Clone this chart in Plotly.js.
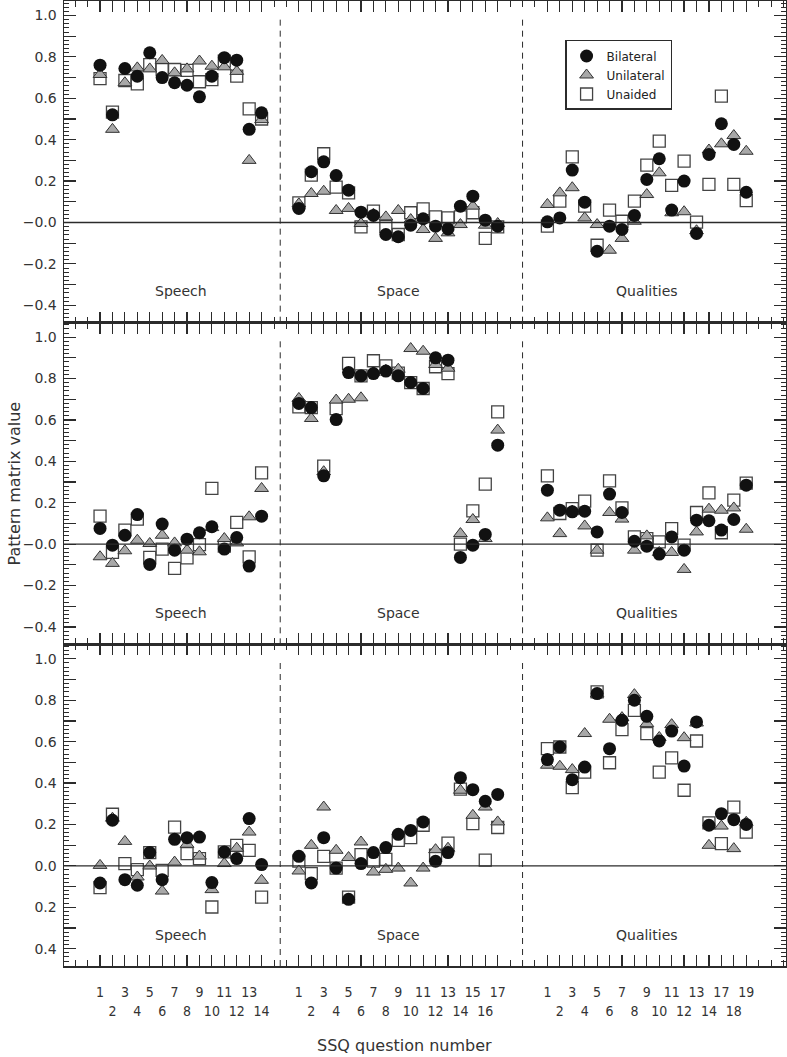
<!DOCTYPE html>
<html>
<head>
<meta charset="utf-8">
<script src="https://cdn.plot.ly/plotly-3.0.1.min.js"></script>
<style>
  body { margin: 0; background: #fff; }
  #chart { width: 787px; height: 1057px; }
</style>
</head>
<body>
<div id="chart"></div>
<script>
// SSQ question numbers in each section
const speechQ = [1, 2, 3, 4, 5, 6, 7, 8, 9, 10, 11, 12, 13, 14];
const spaceQ = [1, 2, 3, 4, 5, 6, 7, 8, 9, 10, 11, 12, 13, 14, 15, 16, 17];
const qualQ = [1, 2, 3, 4, 5, 6, 7, 8, 9, 10, 11, 12, 13, 14, 17, 18, 19];
const sectionNames = ['Speech', 'Space', 'Qualities'];

// Panel 1 (top) - speech, space, qualities in that order
const bilat1 = [0.76, 0.52, 0.744, 0.707, 0.82, 0.70, 0.675, 0.663, 0.607, 0.707, 0.796, 0.784, 0.45, 0.53,
  0.068, 0.245, 0.293, 0.227, 0.156, 0.05, 0.034, -0.058, -0.069, -0.013, 0.018, -0.018, -0.031, 0.079, 0.127, 0.011, -0.018,
  0.003, 0.022, 0.253, 0.098, -0.139, -0.018, -0.034, 0.034, 0.208, 0.308, 0.06, 0.2, -0.053, 0.329, 0.477, 0.377, 0.146];
const unilat1 = [0.715, 0.45, 0.675, 0.747, 0.742, 0.783, 0.723, 0.742, 0.78, 0.755, 0.752, 0.73, 0.30, 0.497,
  0.09, 0.14, 0.151, 0.058, 0.068, -0.005, 0.04, 0.027, 0.058, 0.014, -0.034, -0.077, -0.05, -0.01, 0.079, -0.013, -0.005,
  0.087, 0.143, 0.168, 0.022, -0.01, -0.134, -0.077, 0.006, 0.135, 0.24, 0.047, 0.052, -0.04, 0.35, 0.38, 0.42, 0.344];
const unaid1 = [0.695, 0.533, 0.686, 0.67, 0.763, 0.739, 0.739, 0.735, 0.68, 0.69, 0.78, 0.707, 0.549, 0.50,
  0.095, 0.229, 0.332, 0.171, 0.143, -0.021, 0.055, -0.02, -0.058, 0.047, 0.066, 0.027, 0.022, 0.027, 0.047, -0.077, -0.021,
  -0.018, 0.103, 0.317, 0.079, -0.11, 0.06, 0.006, 0.103, 0.277, 0.393, 0.179, 0.296, 0.002, 0.184, 0.61, 0.184, 0.106];

// Panel 2 (middle)
const bilat2 = [0.076, -0.005, 0.043, 0.143, -0.098, 0.097, -0.029, 0.024, 0.055, 0.084, -0.024, 0.032, -0.106, 0.135,
  0.68, 0.66, 0.33, 0.602, 0.829, 0.813, 0.824, 0.836, 0.813, 0.781, 0.752, 0.9, 0.889, -0.064, -0.005, 0.047, 0.478,
  0.261, 0.164, 0.156, 0.159, 0.059, 0.242, 0.153, 0.014, -0.01, -0.048, 0.035, -0.029, 0.116, 0.113, 0.068, 0.119, 0.285];
const unilat2 = [-0.061, -0.093, -0.032, 0.019, 0.003, 0.043, 0.006, -0.029, -0.037, 0.08, 0.027, 0.006, 0.132, 0.269,
  0.704, 0.607, 0.35, 0.696, 0.70, 0.707, 0.83, 0.84, 0.845, 0.945, 0.932, 0.868, 0.85, 0.051, 0.119, 0.027, 0.551,
  0.127, 0.051, 0.16, 0.088, -0.029, 0.153, 0.121, -0.029, 0.04, -0.04, -0.04, -0.122, 0.059, 0.169, 0.164, 0.175, 0.072];
const unaid2 = [0.135, -0.04, 0.068, 0.121, -0.064, -0.024, -0.117, -0.066, -0.002, 0.269, -0.01, 0.105, -0.061, 0.344,
  0.663, 0.66, 0.377, 0.655, 0.873, 0.813, 0.886, 0.861, 0.826, 0.78, 0.752, 0.857, 0.824, 0.0, 0.161, 0.29, 0.639,
  0.33, 0.148, 0.172, 0.208, -0.029, 0.306, 0.175, 0.035, 0.027, 0.011, 0.075, -0.005, 0.153, 0.248, 0.055, 0.213, 0.295];

// Panel 3 (bottom)
const bilat3 = [-0.083, 0.22, -0.067, -0.094, 0.064, -0.067, 0.128, 0.136, 0.139, -0.081, 0.067, 0.035, 0.228, 0.006,
  0.046, -0.083, 0.136, -0.011, -0.162, 0.011, 0.064, 0.088, 0.152, 0.171, 0.212, 0.022, 0.064, 0.426, 0.368, 0.312, 0.345,
  0.513, 0.574, 0.416, 0.477, 0.832, 0.566, 0.703, 0.8, 0.722, 0.603, 0.651, 0.482, 0.695, 0.196, 0.252, 0.223, 0.2];
const unilat3 = [0.002, 0.23, 0.118, -0.054, -0.001, -0.122, 0.018, 0.104, 0.047, -0.115, 0.011, 0.085, 0.163, -0.07,
  -0.025, 0.099, 0.284, 0.075, 0.04, 0.115, -0.03, -0.017, -0.011, -0.083, -0.011, 0.078, 0.085, 0.365, 0.244, 0.284, 0.212,
  0.486, 0.481, 0.465, 0.639, 0.83, 0.708, 0.716, 0.827, 0.687, 0.62, 0.682, 0.619, 0.69, 0.099, 0.192, 0.083, 0.21];
const unaid3 = [-0.105, 0.249, 0.011, -0.018, 0.064, -0.022, 0.187, 0.059, 0.035, -0.199, 0.067, 0.099, 0.075, -0.151,
  0.023, -0.038, 0.046, -0.011, -0.151, 0.054, 0.023, 0.031, 0.123, 0.136, 0.196, 0.051, 0.11, 0.37, 0.204, 0.027, 0.185,
  0.566, 0.574, 0.378, 0.453, 0.84, 0.498, 0.658, 0.751, 0.639, 0.453, 0.521, 0.365, 0.603, 0.207, 0.107, 0.284, 0.163];

// x positions: sections laid side by side with a gap of 2 slots between them
const sections = [speechQ, spaceQ, qualQ];
const offsets = [0, 16, 36];
const xs = [];
const tickText = [];
sections.forEach(function (qs, s) {
  qs.forEach(function (q, i) {
    xs.push(offsets[s] + i + 1);
    tickText.push(i % 2 === 0 ? String(q) : '<br>' + q);
  });
});
const sectionMid = sections.map(function (qs, s) { return offsets[s] + (qs.length + 1) / 2; });
const dividers = [15.5, 35];

const FONT = 'DejaVu Sans, sans-serif';
const NARROW = 'DejaVu Sans Condensed, Liberation Sans Narrow, sans-serif';
const INK = '#2b2b2b';
const yRange = [-0.484, 1.07];

const series = [
  { name: 'Unaided', sets: [unaid1, unaid2, unaid3], rank: 3,
    marker: { symbol: 'square', size: 12, color: '#ffffff', line: { color: '#444', width: 1.3 } } },
  { name: 'Unilateral', sets: [unilat1, unilat2, unilat3], rank: 2,
    marker: { symbol: 'triangle-up', size: 12, color: '#a8a8a8', line: { color: '#333', width: 1 } } },
  { name: 'Bilateral', sets: [bilat1, bilat2, bilat3], rank: 1,
    marker: { symbol: 'circle', size: 13, color: '#111111', line: { color: '#111', width: 0 } } }
];

const traces = [];
for (let p = 0; p < 3; p++) {
  series.forEach(function (s) {
    traces.push({
      type: 'scatter', mode: 'markers',
      x: xs, y: s.sets[p],
      xaxis: p === 0 ? 'x' : 'x' + (p + 1),
      yaxis: p === 0 ? 'y' : 'y' + (p + 1),
      name: s.name, legendgroup: s.name, legendrank: s.rank,
      showlegend: p === 0,
      marker: s.marker,
      hoverinfo: 'skip'
    });
  });
}

// y ticks: major every 0.1 (labelled every 0.2), minor every 0.02
const majorVals = [];
for (let k = -4; k <= 10; k++) majorVals.push(k / 10);

function yLabels(noMinus) {
  return majorVals.map(function (v) {
    const k = Math.round(v * 10);
    if (k % 2 !== 0) return '';
    if (k > 0) return v.toFixed(1);
    return (noMinus ? '' : '\u2212') + Math.abs(v).toFixed(1);
  });
}

function yAxis(domain, noMinus) {
  return {
    domain: domain, range: yRange, fixedrange: true,
    tickmode: 'array', tickvals: majorVals, ticktext: yLabels(noMinus),
    ticks: 'inside', ticklen: 12, tickwidth: 1.2, tickcolor: INK,
    minor: { dtick: 0.02, tick0: 0, ticks: 'inside', ticklen: 5, tickwidth: 1, tickcolor: INK },
    showline: true, linecolor: INK, linewidth: 1.5, mirror: 'ticks',
    showgrid: false, zeroline: false,
    ticklabelstandoff: 3,
    tickfont: { family: FONT, size: 14, color: '#333' }
  };
}

function xAxis(anchor, labels) {
  return {
    anchor: anchor, range: [-1.9, 56.2], fixedrange: true,
    tickmode: 'array', tickvals: xs, ticktext: tickText, showticklabels: labels,
    tickangle: 0,
    ticks: 'inside', ticklen: 11, tickwidth: 1.2, tickcolor: INK,
    minor: { dtick: 1, tick0: 0, ticks: 'inside', ticklen: 6, tickwidth: 1, tickcolor: INK },
    showline: true, linecolor: INK, linewidth: 1.5, mirror: 'ticks',
    showgrid: false, zeroline: false,
    ticklabelstandoff: 13,
    tickfont: { family: NARROW, size: 14, color: '#333' }
  };
}

const domains = [[2 / 3, 1], [1 / 3, 2 / 3], [0, 1 / 3]];
const shapes = [];
const annotations = [];
for (let p = 0; p < 3; p++) {
  const yr = p === 0 ? 'y' : 'y' + (p + 1);
  const xr = p === 0 ? 'x' : 'x' + (p + 1);
  shapes.push({ type: 'line', xref: 'paper', yref: yr, x0: 0, x1: 1, y0: 0, y1: 0,
    line: { color: INK, width: 1.3 } });
  dividers.forEach(function (d) {
    shapes.push({ type: 'line', xref: xr, yref: yr, x0: d, x1: d, y0: yRange[0], y1: 1.0,
      line: { color: INK, width: 1, dash: '6px,5px' } });
  });
  sectionNames.forEach(function (name, s) {
    annotations.push({ xref: xr, yref: yr, x: sectionMid[s], y: -0.333, text: name, showarrow: false,
      xanchor: 'center', yanchor: 'middle',
      font: { family: FONT, size: 14, color: '#333' } });
  });
}
annotations.push({ xref: 'paper', yref: 'paper', x: 0.471, y: -0.082, text: 'SSQ question number',
  xanchor: 'center', yanchor: 'middle',
  showarrow: false, font: { family: FONT, size: 16, color: '#333' } });
annotations.push({ xref: 'paper', yref: 'paper', x: -0.068, y: 0.5, text: 'Pattern matrix value',
  xanchor: 'center', yanchor: 'middle',
  textangle: -90, showarrow: false, font: { family: FONT, size: 16, color: '#333' } });

const layout = {
  width: 787, height: 1057,
  margin: { l: 64, r: 1, t: 1, b: 91 },
  paper_bgcolor: '#ffffff', plot_bgcolor: '#ffffff',
  xaxis: xAxis('y', false),
  xaxis2: Object.assign(xAxis('y2', false), { matches: 'x' }),
  xaxis3: Object.assign(xAxis('y3', true), { matches: 'x' }),
  yaxis: yAxis(domains[0], false),
  yaxis2: yAxis(domains[1], false),
  yaxis3: yAxis(domains[2], true),
  showlegend: true,
  legend: {
    x: 0.694, y: 0.9596, xanchor: 'left', yanchor: 'top',
    bgcolor: '#ffffff', bordercolor: INK, borderwidth: 1.5,
    font: { family: FONT, size: 12, color: '#222' },
    itemwidth: 30, tracegroupgap: 0
  },
  shapes: shapes,
  annotations: annotations
};

Plotly.newPlot('chart', traces, layout, { displayModeBar: false, staticPlot: true });
</script>
</body>
</html>
